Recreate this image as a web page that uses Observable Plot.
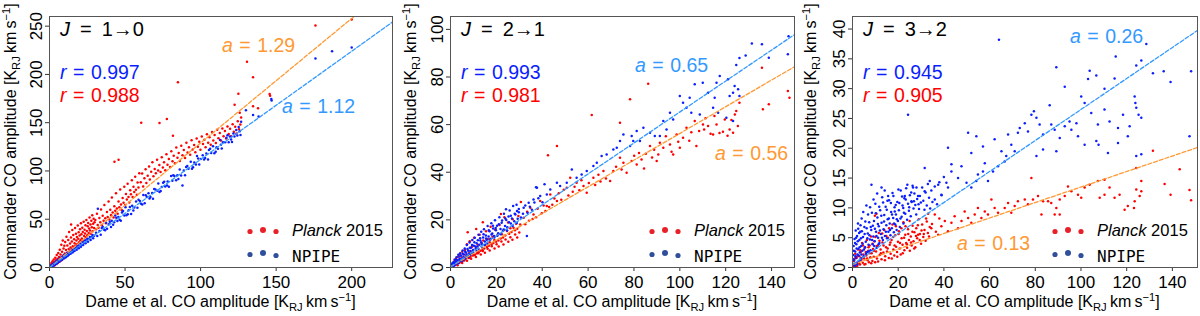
<!DOCTYPE html>
<html><head><meta charset="utf-8">
<script src="https://cdn.jsdelivr.net/npm/d3@7"></script>
<script src="https://cdn.jsdelivr.net/npm/@observablehq/plot@0.6"></script>
<style>
body{margin:0;background:#fff;}
#wrap{position:relative;width:1200px;height:316px;overflow:hidden;background:#fff;}
#wrap svg{position:absolute;top:0;}
</style></head><body><div id="wrap"></div>
<script>
// ---------------- data ----------------
const transitions = ["1\u21920", "2\u21921", "3\u21922"];
const xMax = [227, 150, 151];
const yMax = [260, 105.4, 42.1];
const xTicks = [[0, 50, 100, 150, 200], [0, 20, 40, 60, 80, 100, 120, 140], [0, 20, 40, 60, 80, 100, 120, 140]];
const yTicks = [[0, 50, 100, 150, 200, 250], [0, 20, 40, 60, 80, 100], [0, 5, 10, 15, 20, 25, 30, 35, 40]];
const rNpipe = ["0.997", "0.993", "0.945"];
const rPlanck = ["0.988", "0.981", "0.905"];
const slopeNpipe = [1.12, 0.65, 0.26];
const slopePlanck = [1.29, 0.56, 0.13];
const icptNpipe = [0, 0.3, 0.5];
const icptPlanck = [0, 0.3, 0.5];
const seriesNames = ["Planck", "2015", "NPIPE"];

// J=1-0  Planck 2015  [Dame, Commander]
const planck10 = [[0.3,1.0],[0.5,2.9],[0.8,0.6],[1.0,1.9],[1.3,4.6],[1.5,1.3],[1.8,3.3],[2.0,6.4],[2.3,2.1],[2.5,4.4],[2.8,8.3],[3.0,3.1],[3.3,5.6],[3.5,2.4],[3.8,10.2],[4.0,4.8],[4.3,7.4],[4.5,3.5],[4.8,12.9],[5.0,6.2],[5.3,9.1],[5.5,4.6],[5.8,15.1],[6.0,7.7],[6.3,11.0],[6.5,5.9],[6.8,18.4],[7.0,9.2],[7.3,13.5],[7.5,7.1],[7.8,23.6],[8.0,10.8],[8.3,16.2],[8.5,8.4],[8.8,28.0],[9.0,12.3],[9.3,19.7],[9.5,9.9],[9.8,22.5],[10.1,14.6],[10.4,26.3],[10.6,11.5],[10.9,18.1],[11.2,31.9],[11.5,15.4],[11.8,22.9],[12.1,13.3],[12.4,28.4],[12.7,19.2],[13.0,36.7],[13.3,16.5],[13.6,24.8],[13.9,20.6],[14.3,44.5],[14.2,31.2],[14.5,18.3],[14.8,27.0],[15.1,38.9],[15.4,22.1],[15.7,33.6],[16.0,19.8],[16.3,29.2],[16.6,25.0],[16.9,40.8],[17.2,22.7],[17.5,35.0],[17.8,27.9],[18.1,31.6],[18.4,24.4],[18.7,43.6],[19.0,29.8],[19.3,36.4],[19.6,26.2],[19.9,33.1],[20.2,39.7],[20.5,28.3],[20.8,45.9],[21.1,34.5],[21.4,30.0],[21.7,41.2],[22.0,36.8],[22.3,27.9],[22.6,47.4],[22.9,32.6],[23.2,39.0],[23.5,35.1],[23.8,43.8],[24.1,31.4],[24.4,49.3],[24.7,37.9],[25.0,33.5],[25.3,42.7],[25.6,46.1],[25.9,35.8],[26.2,40.3],[26.5,51.8],[26.8,38.2],[27.1,44.6],[27.4,34.9],[27.7,48.5],[28.0,41.7],[28.3,54.0],[28.6,37.6],[28.9,45.2],[29.2,50.4],[29.5,40.9],[29.8,47.0],
[30.3,49.2],[30.8,39.5],[31.4,55.6],[31.9,44.1],[32.5,41.2],[33.0,51.3],[33.6,46.8],[34.1,60.1],[34.7,43.9],[35.2,53.6],[35.8,48.5],[36.3,64.7],[36.9,51.0],[37.4,45.8],[38.0,57.4],[38.5,52.2],[39.1,68.3],[39.6,49.7],[40.2,59.8],[40.7,54.5],[41.3,72.4],[41.8,57.1],[42.4,51.9],[43.0,109.6],[42.9,63.5],[43.5,58.7],[44.0,76.8],[44.6,61.0],[45.1,55.6],[45.7,111.7],[45.7,68.4],[46.2,62.5],[46.8,80.9],[47.3,65.3],[47.9,59.4],[48.4,72.0],[49.0,67.1],[49.5,83.6],[50.1,64.8],[50.6,76.2],[51.2,70.5],[51.7,86.8],[52.3,73.1],[52.8,67.4],[53.4,80.0],[53.9,75.8],[54.5,90.5],[55.0,72.9],[55.6,83.7],[56.1,78.2],[56.7,94.1],[57.2,80.6],[57.8,75.3],[58.3,88.0],[58.9,82.9],[59.4,97.6],
[60.7,150.0],[60.4,88.2],[61.3,97.5],[62.0,83.9],[62.8,92.4],[63.6,101.8],[64.1,87.5],[65.0,95.0],[65.9,104.6],[66.4,91.2],[67.3,99.3],[68.1,108.9],[68.8,94.6],[69.6,102.1],[70.4,97.7],[71.2,111.5],[71.9,100.4],[72.8,149.6],[72.7,106.2],[73.5,98.9],[74.3,114.1],[75.0,103.6],[75.8,109.0],[76.6,100.8],[77.7,153.8],[77.4,117.3],[78.1,106.5],[79.0,112.4],[79.8,104.2],[80.6,120.5],[81.7,136.5],[81.4,110.1],[82.2,115.7],[83.0,107.9],[83.9,124.3],[84.7,113.8],[85.0,192.0],[85.5,118.6],[86.3,110.2],[87.2,126.0],[88.0,116.4],[88.9,121.7],[89.7,113.5],[90.6,129.1],[91.4,119.0],[92.3,124.6],[93.1,116.8],[94.0,131.9],[94.8,122.3],[95.7,127.0],[96.5,119.4],[97.4,133.6],[98.2,125.1],[99.1,130.2],[99.9,122.0],[100.8,135.8],[101.6,127.9],[102.5,132.4],[103.3,124.6],[104.2,138.1],[105.0,129.3],[105.9,134.9],[106.7,127.2],[107.6,140.3],[108.4,131.6],[109.3,137.2],[110.1,129.0],[111.0,142.6],[111.8,133.8],[112.7,139.4],[113.5,131.5],[114.4,144.1],[115.2,136.0],[116.1,141.3],[116.9,133.7],[117.8,146.0],[118.6,138.2],[119.5,143.7],[120.3,135.9],[121.2,148.4],[122.0,140.5],[122.5,168.6],[122.9,145.9],[123.7,138.7],[124.6,151.6],[125.0,180.0],[125.4,143.2],[125.9,160.4],[126.3,148.0],[126.8,155.5],[130.7,213.0],[134.7,197.0],[134.7,167.0],[138.0,165.0],[145.7,179.6],[146.0,177.8],[176.0,250.7],[200.0,257.0]];

// J=1-0  NPIPE
const npipe10 = [[0.2,0.6],[0.4,1.4],[0.6,0.2],[0.9,1.9],[1.1,0.7],[1.3,2.4],[1.6,1.1],[1.8,3.0],[2.1,2.6],[2.3,1.4],[2.6,3.8],[2.9,2.2],[3.1,4.5],[3.4,3.0],[3.6,5.3],[3.9,3.6],[4.2,4.1],[4.4,6.2],[4.7,3.9],[5.0,6.8],[5.3,5.1],[5.5,7.6],[5.8,5.9],[6.1,6.4],[6.4,8.6],[6.7,6.1],[7.0,9.3],[7.3,7.7],[7.6,8.1],[7.9,10.4],[8.2,7.8],[8.5,11.2],[8.8,9.4],[9.1,10.1],[9.4,12.6],[9.8,9.5],[10.1,11.9],[10.5,13.6],[10.8,10.7],[11.2,12.1],[11.6,14.8],[12.0,11.9],[12.4,15.6],[12.8,13.2],[13.2,14.0],[13.6,17.1],[14.0,14.2],[14.4,16.3],[14.9,18.7],[15.3,15.6],[15.7,17.3],[16.2,20.1],[16.6,17.0],[17.1,19.9],[17.5,21.6],[18.0,18.4],[18.4,20.7],[18.9,23.1],[19.4,20.0],[19.8,22.4],[20.3,24.9],[20.8,21.6],[21.3,23.5],[21.8,26.6],[22.3,23.3],[22.8,25.6],[23.4,28.1],[23.9,25.0],[24.4,27.9],[25.0,29.9],[25.5,26.7],[26.1,29.5],[26.7,31.6],[27.2,28.6],[27.8,31.7],[28.4,33.6],[28.9,30.4],[29.5,33.0],
[30.8,36.0],[31.6,32.6],[32.0,60.8],[33.1,37.7],[33.9,33.9],[35.2,42.3],[36.0,39.3],[37.4,46.3],[38.1,40.2],[39.3,44.8],[40.7,41.9],[41.2,48.5],[42.8,47.0],[43.5,53.9],[44.9,48.1],[45.6,52.3],[47.2,48.3],[48.0,57.1],[49.5,53.9],[50.3,62.3],[51.8,55.1],[52.4,59.2],[54.0,55.4],[54.7,64.0],[56.1,62.2],[57.3,68.3],[58.2,61.9],[59.8,68.9],[60.6,66.1],[62.1,75.1],[63.0,66.6],[64.4,73.0],[65.5,76.9],[66.2,71.5],[67.9,77.3],[68.5,71.3],[70.1,80.7],[71.4,79.6],[72.0,86.9],[73.6,79.3],[74.3,83.4],[75.9,88.8],[76.6,83.8],[78.2,89.2],[79.0,83.7],[80.5,94.8],[81.3,89.9],[82.7,94.7],[83.8,90.3],[84.6,95.5],[86.2,101.6],[87.1,95.3],[88.0,85.0],[88.9,100.6],[89.7,95.5],[91.2,105.1],[92.0,102.2],[93.5,109.6],[94.3,102.4],[95.8,108.7],[96.9,106.6],[97.6,115.4],[99.1,106.7],[100.2,112.5],[101.4,116.2],[102.3,111.9],[103.8,118.1],[104.9,112.0],[105.5,121.6],[107.0,118.7],[108.2,125.5],[109.1,118.4],[110.6,124.5],[111.5,122.9],[112.9,132.0],[114.0,123.3],[114.8,129.8],[116.3,129.8],[117.1,134.3],[118.6,129.8],[119.4,135.6],[120.8,130.1],[121.7,138.8],[122.4,135.6],[123.6,142.4],[124.3,136.8],[125.2,145.5],[125.9,141.1],[126.4,137.3],[126.8,151.0],
[34.6,40.9],[36.8,38.6],[39.9,47.3],[42.1,44.2],[44.2,51.6],[46.4,49.5],[48.7,58.4],[50.9,54.0],[53.2,62.6],[55.5,59.1],[58.9,70.2],[61.4,65.3],[63.7,74.8],[66.8,72.9],[69.3,81.4],[72.8,78.1],[75.2,87.9],[77.8,84.9],[81.9,95.6],[85.3,91.7],[90.4,104.0],[95.0,103.9],[98.4,113.0],[103.0,113.4],[106.3,123.1],[110.0,120.0],[113.4,127.2],[117.8,137.0],[120.2,132.6],
[130.0,163.0],[134.7,158.0],[138.4,156.5],[146.8,174.5],[147.0,173.0],[176.0,216.6],[187.0,224.0],[200.0,228.0]];

// J=2-1  Planck 2015
const planck21 = [[0.3,0.4],[0.6,1.2],[0.9,0.5],[1.2,2.0],[1.5,0.9],[1.8,2.8],[2.1,1.2],[2.4,3.6],[2.7,1.6],[3.0,2.4],[3.3,4.5],[3.6,1.9],[3.9,3.2],[4.2,5.5],[4.5,2.3],[4.8,3.9],[5.1,6.6],[5.4,2.8],[5.7,4.5],[6.0,3.3],[6.3,7.4],[6.6,3.7],[6.9,5.2],[7.2,9.8],[7.5,14.8],[7.8,4.1],[8.1,6.0],[8.4,11.0],[8.7,4.5],[9.0,6.7],[9.3,8.6],[9.6,5.0],[9.9,7.3],[10.3,12.5],[10.7,5.4],[11.1,8.2],[11.2,16.2],[11.5,6.0],[11.9,9.6],[12.3,6.4],[12.7,13.8],[13.1,7.0],[13.5,10.4],[13.9,7.4],[14.1,19.0],[14.3,11.3],[14.7,8.0],[15.1,9.5],[15.5,15.2],[15.9,8.6],[16.3,12.0],[16.7,9.1],[17.1,10.6],[17.5,17.1],[17.9,9.7],[18.3,12.9],[18.7,10.3],[19.1,11.5],[19.5,15.9],[19.9,10.8],[20.4,13.5],[20.9,11.3],[21.4,17.8],[21.9,12.2],[22.0,22.5],[22.4,14.0],[22.9,12.6],[23.4,15.7],[23.5,21.1],[23.9,13.4],[24.6,15.3],[25.1,18.9],[25.6,14.2],[26.1,16.5],[26.6,14.9],[27.1,20.3],[27.5,16.7],[28.1,15.6],[28.6,18.4],[29.1,16.3],[29.6,21.6],[30.4,18.1],[30.7,27.5],
[1.0,0.3],[2.0,1.1],[3.1,0.9],[4.0,2.1],[5.1,1.9],[6.0,2.9],[7.2,2.8],[8.1,4.0],[9.0,3.7],[10.2,5.1],[11.1,4.4],[12.0,6.0],[13.2,5.5],[14.1,6.9],[15.0,6.2],[16.2,7.9],[17.1,7.1],[18.0,8.9],[19.2,8.0],[20.1,9.8],[21.0,8.8],[22.2,10.9],[23.1,9.7],[24.0,11.8],[25.2,10.8],[26.1,12.7],[27.0,11.7],[28.2,13.9],[29.1,12.6],[30.0,14.7],
[31.9,20.9],[32.6,18.2],[33.4,23.4],[34.2,19.6],[34.8,25.1],[35.8,20.4],[36.2,22.3],[37.3,21.1],[38.0,24.7],[39.1,27.9],[39.8,22.8],[40.6,26.0],[41.4,23.7],[42.0,25.8],[42.5,47.1],[43.0,25.4],[43.5,30.7],[44.4,26.3],[45.3,29.0],[46.4,27.9],[46.4,51.0],[47.2,31.2],[48.3,28.5],[49.4,32.6],[50.7,33.5],[51.4,30.2],[52.2,37.7],[53.3,31.8],[54.1,33.9],[55.0,35.6],[56.2,32.4],[57.1,36.6],[58.0,34.2],[59.4,31.4],[60.3,35.5],[61.6,64.0],[62.3,37.7],[63.1,34.6],[64.5,38.9],[65.4,36.1],[66.7,40.5],[67.8,37.4],[69.6,36.3],[71.0,40.5],[72.2,42.3],[73.9,46.1],[73.9,60.8],[74.6,41.2],[75.4,44.0],[76.8,39.8],[78.3,70.6],[79.0,44.7],[80.1,46.9],[81.2,43.3],[82.2,48.1],[83.3,45.4],[84.4,41.6],[85.2,47.8],[86.2,77.2],[87.0,51.0],[87.9,46.2],[88.8,49.4],[89.9,44.7],[90.6,47.5],
[91.3,52.4],[92.8,50.3],[93.9,55.1],[95.7,51.7],[96.4,48.6],[97.1,47.5],[98.6,55.9],[99.3,52.8],[100.0,50.3],[101.4,54.5],[102.9,58.7],[104.1,53.2],[105.0,56.8],[106.5,61.5],[107.2,51.0],[108.4,57.3],[110.1,60.1],[110.6,58.0],[111.2,62.7],[112.3,59.4],[113.4,56.2],[114.5,55.9],[115.1,63.6],[116.0,60.1],[117.3,56.5],[118.8,57.0],[119.6,62.1],[120.8,55.3],[121.7,58.0],[122.5,61.9],[123.2,56.6],[124.0,64.3],[124.6,65.7],[125.3,59.4],[126.0,69.2],[135.8,83.9],[136.2,66.4],[138.8,68.5],[147.1,74.1],[147.8,71.3]];

// J=2-1  NPIPE
const npipe21 = [[0.3,1.0],[0.5,0.2],[0.8,1.8],[1.0,0.6],[1.3,2.2],[1.5,1.4],[1.8,3.4],[2.0,1.1],[2.3,2.7],[2.6,4.3],[2.8,1.7],[3.1,2.9],[3.4,5.4],[3.6,2.3],[3.9,3.6],[4.2,6.0],[4.4,2.8],[4.7,4.9],[5.0,3.6],[5.3,7.1],[5.6,4.2],[5.9,5.5],[6.2,8.0],[6.5,3.9],[6.8,6.2],[7.1,9.4],[7.4,5.1],[7.7,7.0],[8.0,5.8],[8.3,10.5],[8.6,6.9],[8.9,8.3],[9.2,5.9],[9.5,11.6],[9.8,7.4],[10.2,9.1],[10.6,12.5],[11.0,7.9],[11.4,10.2],[11.8,8.8],[12.2,13.7],[12.6,9.6],[13.0,11.3],[13.4,15.0],[13.8,9.8],[14.2,12.6],[14.6,16.1],[15.0,10.9],[15.4,13.4],[15.8,11.7],[16.2,17.4],[16.6,13.0],[17.0,15.2],[17.4,12.1],[17.8,18.6],[18.2,14.3],[18.6,16.4],[19.0,13.2],[19.4,19.8],[19.8,15.6],[20.3,17.5],[20.8,14.4],[21.3,21.1],[21.8,16.2],[22.3,18.8],[22.8,15.3],[23.3,22.6],[23.8,17.4],[24.2,24.5],[24.3,19.9],[24.8,16.9],[25.3,21.4],[25.8,23.9],[26.3,18.5],[26.8,20.6],[27.3,25.8],[27.8,19.4],[28.3,22.3],[28.8,26.4],[29.3,20.5],[29.8,23.2],
[0.4,0.5],[0.9,1.2],[1.4,0.6],[1.9,2.0],[2.4,1.9],[2.9,3.1],[3.4,1.8],[3.9,4.6],[4.4,3.6],[4.9,2.6],[5.4,5.8],[5.9,3.4],[6.4,6.6],[6.9,4.8],[7.4,7.8],[7.9,4.5],[8.4,8.3],[8.9,5.4],[9.4,9.5],[9.9,6.3],[10.4,10.6],[10.9,8.8],[11.4,6.9],[11.9,11.4],[12.4,7.6],[12.9,12.3],[13.4,10.5],[13.9,8.3],[14.4,14.0],[14.9,9.4],[15.5,12.2],[16.1,10.0],[16.7,15.6],[17.3,11.7],[17.9,13.9],[18.5,17.5],[19.1,12.6],[19.7,16.6],[20.4,13.3],[21.1,18.2],[21.8,14.0],[22.5,19.7],[23.2,16.0],[23.9,20.6],[24.7,15.5],[25.5,19.0],[26.3,21.7],[27.1,17.4],[28.0,22.6],[28.9,18.7],[29.8,24.6],[30.7,21.0],[31.6,22.6],[32.6,26.0],[33.6,23.0],[34.6,25.5],[35.5,24.3],[36.6,27.3],[38.3,29.1],[40.1,27.4],
[29.0,23.7],[31.9,25.1],[33.3,13.2],[34.1,27.2],[36.2,28.6],[37.3,33.7],[37.7,33.5],[39.1,30.0],[41.0,35.0],[42.0,30.7],[43.5,32.8],[46.4,35.6],[47.8,34.2],[50.7,35.6],[52.9,41.2],[55.0,37.7],[57.2,39.1],[59.4,40.5],[62.3,42.6],[63.8,44.0],[65.9,46.8],[68.1,47.5],[71.0,49.6],[72.5,50.3],[73.9,53.1],[75.4,55.9],[78.3,51.0],[79.0,55.2],[79.7,53.1],[81.2,57.3],[82.6,53.1],[84.1,58.7],[87.0,56.6],[89.1,55.2],[91.3,55.2],[92.8,61.5],[94.2,58.0],[95.7,65.0],[97.1,62.2],[100.0,72.0],[101.4,69.2],[102.9,67.1],[104.3,71.3],[105.0,65.0],[106.5,76.9],[108.7,64.3],[110.0,77.6],[112.3,73.4],[114.5,67.1],[115.2,71.3],[116.0,77.6],[116.7,65.0],[117.4,80.4],[120.3,62.9],[121.0,79.0],[121.7,72.0],[123.2,61.5],[123.2,73.4],[123.9,76.2],[124.6,85.0],[125.4,74.8],[126.0,72.0],[126.0,88.0],[128.7,89.0],[131.4,94.1],[135.8,93.7],[138.8,88.1],[147.1,89.5],[147.4,97.1]];

// J=3-2  Planck 2015
const planck32 = [[0.3,0.2],[0.6,1.1],[0.9,0.4],[1.2,2.3],[1.5,0.7],[1.8,1.6],[2.1,0.3],[2.4,3.0],[2.7,1.0],[3.0,1.9],[3.3,0.5],[3.6,2.6],[3.9,1.3],[4.2,4.1],[4.5,0.8],[4.8,2.2],[5.1,1.5],[5.4,3.3],[5.7,0.6],[6.0,2.0],[6.3,4.6],[6.6,1.2],[6.9,2.8],[7.2,0.9],[7.5,3.7],[7.8,1.7],[8.1,5.2],[8.4,2.4],[8.7,1.1],[9.0,3.1],[9.3,1.8],[9.6,4.4],[9.8,8.7],[9.9,0.9],[10.3,2.7],[10.5,9.0],[10.7,1.5],[11.1,3.6],[11.5,5.8],[11.9,2.1],[12.3,3.0],[12.7,1.4],[13.1,4.2],[13.5,2.5],[13.9,6.3],[14.3,1.9],[14.7,3.4],[15.1,2.7],[15.5,5.0],[15.9,1.6],[16.3,3.8],[16.7,2.3],[17.1,4.6],[17.5,7.2],[17.9,3.0],[18.3,2.0],[18.7,5.4],[19.1,3.5],[19.5,2.6],[19.9,4.3],[20.3,6.1],[20.7,3.2],[21.1,2.2],[21.5,4.9],[21.9,3.8],[22.3,7.6],[22.7,2.9],[23.1,5.5],[23.5,4.1],[23.9,3.3],[24.3,6.4],[24.7,4.6],[25.1,2.8],[25.5,5.2],[25.9,3.7],[26.3,7.0],[26.7,4.4],[27.1,5.9],[27.5,3.4],[27.9,6.6],[28.3,4.9],[28.7,5.5],[29.0,8.1],[29.5,5.6],[30.0,4.0],[30.5,7.2],[31.0,5.1],[31.5,6.3],[32.0,4.5],[32.5,7.7],[33.0,5.8],
[0.5,0.6],[1.0,1.5],[1.6,0.2],[2.2,1.9],[2.8,0.7],[3.4,2.9],[4.0,1.6],[4.6,3.7],[5.2,0.5],[5.8,2.6],[6.4,1.5],[7.0,3.4],[7.6,2.4],[8.2,0.7],[8.8,4.0],[9.4,2.8],[10.0,5.1],[10.6,3.6],[11.2,1.0],[11.8,4.5],[12.4,2.4],[13.0,5.7],[13.6,3.7],[14.2,1.2],[14.8,5.3],[15.4,3.2],[16.0,6.6],[16.6,4.2],[17.2,1.5],[17.8,5.1],[18.4,3.7],[19.0,6.9],[19.6,1.8],[20.2,5.6],[20.8,4.1],[21.4,6.6],[22.0,2.4],[22.6,5.0],[23.2,6.9],[23.8,3.9],[24.4,5.6],[25.0,7.8],[25.6,4.2],[26.2,6.0],[27.0,3.2],[27.8,5.3],[28.6,7.1],[29.4,4.6],[30.2,6.2],[31.2,5.6],[32.2,8.2],[33.5,5.2],[34.8,7.3],[36.5,6.0],[38.0,8.2],
[33.1,9.0],[33.8,6.8],[34.5,6.6],[36.0,8.9],[37.5,5.5],[38.9,6.9],[40.4,7.8],[41.8,6.1],[43.3,7.5],[44.7,8.6],[46.2,6.6],[47.7,7.8],[49.1,9.4],[50.6,8.3],[52.0,7.5],[53.5,8.9],[54.9,10.0],[56.4,8.3],[57.9,9.4],[59.3,8.9],[60.8,11.4],[62.2,10.0],[63.7,9.2],[66.6,10.0],[68.1,10.8],[69.5,9.2],[71.0,10.3],[72.4,11.1],[75.4,11.4],[76.8,10.6],[78.3,15.0],[79.0,11.4],[81.2,12.0],[82.7,8.9],[83.4,11.1],[85.6,11.1],[87.0,10.8],[88.5,8.9],[89.2,10.0],[90.7,8.9],[90.7,11.4],[92.9,12.0],[94.3,13.6],[95.8,12.8],[98.7,12.2],[100.1,11.7],[101.6,13.4],[103.8,13.9],[107.4,14.5],[108.2,11.7],[110.3,14.7],[110.3,12.2],[112.5,13.4],[114.7,11.7],[116.9,12.2],[119.1,9.7],[120.5,10.3],[123.2,10.0],[123.5,11.1],[124.2,13.1],[124.2,16.7],[125.7,12.0],[126.4,12.8],[126.4,14.5],[131.5,19.6],[136.6,14.0],[139.2,12.2],[143.2,16.5],[147.5,13.0],[148.2,11.3]];

// J=3-2  NPIPE
const npipe32 = [[0.2,0.5],[0.4,2.1],[0.5,3.6],[0.7,1.2],[0.9,4.8],[1.0,0.3],[1.2,2.7],[1.4,6.2],[1.5,1.6],[1.7,3.9],[1.9,0.8],[2.0,5.3],[2.2,2.2],[2.4,7.4],[2.6,3.1],[2.8,1.0],[3.0,4.6],[3.2,2.5],[3.4,6.0],[3.6,1.5],[3.8,3.6],[4.0,8.2],[4.3,2.8],[4.6,5.1],[4.9,1.9],[5.2,6.8],[5.5,3.4],[5.8,4.3],[6.1,10.4],[6.4,2.6],[6.7,5.7],[7.0,3.8],[7.3,7.6],[7.6,4.7],[7.9,2.9],[8.2,6.3],[8.3,13.9],[8.5,9.2],[8.8,3.9],[9.1,5.2],[9.4,7.8],[9.7,4.4],[10.0,10.7],[10.3,6.0],[10.6,3.3],[10.9,8.4],[11.2,5.0],[11.5,6.9],[11.8,4.1],[12.1,9.6],[12.4,5.6],[12.7,7.5],[12.7,13.4],[13.0,11.8],[13.3,4.6],[13.6,6.4],[13.9,8.8],[14.2,5.3],[14.5,10.2],[14.8,7.1],[15.1,4.9],[15.4,8.1],[15.6,12.0],[15.7,6.0],[16.0,11.3],[16.3,7.4],[16.6,5.4],[16.9,9.3],[17.2,6.6],[17.5,12.5],[17.8,8.3],[18.1,5.9],[18.4,10.1],[18.5,9.4],[18.7,7.2],[19.0,8.9],[19.3,6.3],[19.6,11.0],[19.9,7.8],[20.3,9.6],[20.7,6.8],[21.1,12.9],[21.5,8.5],[21.9,10.4],[22.2,10.0],[22.3,7.4],[22.7,11.6],[22.9,12.0],[23.1,9.0],[23.5,13.3],[23.9,8.0],[24.3,25.6],[24.3,10.7],[24.7,9.5],[25.1,12.1],[25.5,8.6],[25.8,11.1],[25.9,11.0],[26.3,13.7],[26.5,13.4],[26.7,9.9],[27.1,12.4],[27.5,10.5],[27.9,8.9],[28.3,11.5],[28.7,12.0],[29.1,9.8],[29.5,12.0],[29.9,10.9],
[0.3,1.4],[0.6,2.8],[0.8,0.6],[1.1,4.1],[1.3,1.9],[1.6,5.0],[1.8,3.2],[2.1,0.5],[2.3,4.4],[2.5,6.5],[2.7,2.0],[2.9,5.8],[3.1,3.4],[3.3,1.2],[3.5,7.1],[3.7,4.9],[3.9,2.2],[4.1,6.1],[4.4,4.0],[4.7,9.3],[5.0,3.0],[5.3,5.6],[5.6,7.7],[5.9,2.3],[6.2,6.6],[6.5,4.9],[6.8,8.9],[7.1,2.7],[7.4,5.4],[7.7,10.1],[8.0,6.8],[8.6,4.6],[8.9,7.0],[9.2,11.4],[9.5,3.6],[9.8,6.5],[10.2,9.1],[10.5,5.3],[10.8,12.4],[11.1,7.3],[11.4,3.9],[11.7,10.2],[12.0,6.2],[12.6,8.7],[12.9,5.0],[13.4,10.9],[13.8,7.7],[14.1,12.9],[14.6,6.0],[15.0,9.7],[15.3,11.2],[15.9,8.2],[16.4,6.3],[16.8,10.8],[17.3,8.9],[17.9,12.0],[18.2,7.4],[18.9,10.5],[19.4,8.1],[20.1,13.1],[20.5,10.8],[21.0,8.2],[21.7,11.9],[22.5,9.2],[23.3,11.4],[24.0,13.9],[24.8,10.1],[25.7,12.6],[26.9,11.1],[28.0,13.4],[28.9,10.6],
[30.5,13.4],[31.0,11.2],[31.5,9.7],[31.6,16.7],[31.6,12.8],[32.0,12.6],[32.5,10.4],[33.0,14.0],[33.5,11.7],[33.8,14.5],[34.0,9.9],[34.5,12.9],[35.0,11.0],[36.0,11.4],[36.0,13.6],[37.0,10.6],[37.5,13.9],[38.0,14.3],[38.9,12.2],[39.0,12.1],[40.0,15.2],[41.1,14.2],[41.8,13.4],[41.8,20.1],[43.3,16.1],[43.3,17.3],[46.2,15.0],[47.7,17.0],[49.9,14.2],[50.6,22.6],[52.0,13.4],[52.0,19.2],[54.2,14.5],[54.2,22.0],[54.9,15.6],[57.1,16.1],[57.1,20.3],[57.9,17.5],[59.3,14.5],[61.5,16.1],[62.2,21.5],[63.7,17.0],[64.1,38.2],[65.2,19.5],[66.6,17.8],[67.3,18.7],[68.1,22.3],[69.5,20.6],[71.0,19.5],[72.4,22.6],[73.2,23.4],[75.4,24.2],[76.8,22.8],[78.3,25.6],[79.4,26.2],[80.5,25.1],[80.5,18.7],[81.9,24.0],[83.4,22.3],[83.4,19.8],[86.3,27.2],[87.0,24.0],[88.5,23.1],[89.2,33.6],[89.2,19.5],[90.7,21.7],[92.9,30.3],[92.9,23.7],[95.0,24.5],[95.8,23.1],[98.0,24.2],[98.7,22.0],[100.1,28.7],[101.6,27.6],[101.6,20.6],[103.1,31.6],[103.8,33.0],[104.5,25.9],[106.7,32.2],[106.7,21.2],[107.4,24.0],[107.7,20.6],[110.3,30.0],[110.3,26.5],[111.8,19.2],[112.5,24.5],[114.7,31.7],[115.2,35.4],[116.2,23.4],[116.2,20.9],[118.4,25.6],[120.5,22.0],[121.3,23.7],[123.5,28.7],[123.8,27.6],[124.2,26.8],[124.2,33.9],[124.2,18.7],[125.2,25.6],[126.4,25.1],[126.4,34.7],[126.4,19.0],[128.6,37.5],[131.5,32.6],[136.2,32.9],[139.2,31.1],[147.5,22.0],[148.2,32.9]];

const planckData = [planck10, planck21, planck32];
const npipeData = [npipe10, npipe21, npipe32];

// ---------------- layout / style ----------------
const FONT = "'Liberation Sans', Arial, sans-serif";
const MONO = "'DejaVu Sans Mono', 'Liberation Mono', monospace";
const C = {red: "#ff0000", blue: "#0a1eff", orange: "#ff9933", lblue: "#3399ff",
           legRed: "#e8202a", legBlue: "#2f4f9c", frame: "#555"};
const panelLayout = [
  {left: 0,   ml: 49, mr: 8},
  {left: 400, ml: 50, mr: 6},
  {left: 800, ml: 52, mr: 3}
];
// annotation offsets relative to frame left/top (px): [x, baseline]
const aPos = [
  {planck: [173, 36], npipe: [233, 97]},
  {planck: [265, 144], npipe: [185, 56]},
  {planck: [105, 234], npipe: [218, 27]}
];
const MT = 16, MB = 49, W = 400, H = 316;
const EQ = "\u2004=\u2004";   // math-style spacing round "="
const EQT = "\u2002=\u2002";

const wrap = document.getElementById("wrap");

function rich(g, x, y, parts, attrs = {}) {
  const t = g.append("text").attr("x", x).attr("y", y).attr("text-anchor", "start");
  for (const k in attrs) t.attr(k, attrs[k]);
  for (const [str, st] of parts) {
    const sp = t.append("tspan").text(str);
    for (const k in (st || {})) sp.attr(k, st[k]);
  }
  return t;
}
const unitParts = (size) => [
  ["[K", {"font-size": size}],
  ["RJ", {"font-size": size * 0.7, dy: size * 0.22}],
  ["\u2009km\u2009s", {"font-size": size, dy: -size * 0.22}],
  ["\u22121", {"font-size": size * 0.7, dy: -size * 0.38}],
  ["]", {"font-size": size, dy: size * 0.38}]
];

for (let i = 0; i < 3; i++) {
  const L = panelLayout[i];
  const fit = (a, b) => [{x: 0, y: b}, {x: xMax[i], y: b + a * xMax[i]}];
  const svg = Plot.plot({
    width: W, height: H,
    marginLeft: L.ml, marginRight: L.mr, marginTop: MT, marginBottom: MB,
    style: {fontFamily: FONT, fontSize: "17px", background: "white", color: "#000", overflow: "visible"},
    x: {domain: [0, xMax[i]], label: null},
    y: {domain: [0, yMax[i]], label: null},
    marks: [
      Plot.dot(planckData[i], {x: d => d[0], y: d => d[1], r: 1.25, fill: C.red, clip: true}),
      Plot.dot(npipeData[i], {x: d => d[0], y: d => d[1], r: 1.25, fill: C.blue, clip: true}),
      Plot.line(fit(slopePlanck[i], icptPlanck[i]), {x: "x", y: "y", stroke: C.orange, strokeWidth: 1.3, strokeDasharray: "4,2", clip: true}),
      Plot.line(fit(slopeNpipe[i], icptNpipe[i]), {x: "x", y: "y", stroke: C.lblue, strokeWidth: 1.3, strokeDasharray: "4,2", clip: true}),
      Plot.axisX({ticks: xTicks[i], tickSize: 4, tickPadding: 4, label: null, stroke: "#333"}),
      Plot.axisY({ticks: yTicks[i], tickSize: 4, tickPadding: 4, tickRotate: -90, label: null, stroke: "#333"}),
      Plot.frame({stroke: C.frame, strokeWidth: 1})
    ]
  });
  svg.style.left = L.left + "px";
  wrap.appendChild(svg);

  const g = d3.select(svg).append("g").attr("font-family", FONT).attr("text-anchor", "start");
  const fx = L.ml, fy = MT, fr = W - L.mr, fb = H - MB;

  // title
  rich(g, fx + 11, fy + 20, [["J", {"font-style": "italic"}], [EQT + transitions[i], {}]], {"font-size": 20, fill: "#000"});
  // correlation coefficients
  rich(g, fx + 11, fy + 63, [["r", {"font-style": "italic"}], [EQ + rNpipe[i], {}]], {"font-size": 19.5, fill: C.blue});
  rich(g, fx + 11, fy + 86, [["r", {"font-style": "italic"}], [EQ + rPlanck[i], {}]], {"font-size": 19.5, fill: C.red});
  // slopes
  rich(g, fx + aPos[i].planck[0], fy + aPos[i].planck[1], [["a", {"font-style": "italic"}], [EQ + slopePlanck[i].toFixed(2), {}]], {"font-size": 19.5, fill: C.orange});
  rich(g, fx + aPos[i].npipe[0], fy + aPos[i].npipe[1], [["a", {"font-style": "italic"}], [EQ + slopeNpipe[i].toFixed(2), {}]], {"font-size": 19.5, fill: C.lblue});

  // legend
  const lr = [[-142, -35.5, 2.6], [-129, -37, 3.0], [-116, -35.5, 2.6]];
  const lb = [[-142, -12.5, 2.6], [-129, -14, 3.0], [-116, -11.5, 2.6]];
  for (const [dx, dy, r] of lr) g.append("circle").attr("cx", fr + dx).attr("cy", fb + dy).attr("r", r).attr("fill", C.legRed);
  for (const [dx, dy, r] of lb) g.append("circle").attr("cx", fr + dx).attr("cy", fb + dy).attr("r", r).attr("fill", C.legBlue);
  rich(g, fr - 100, fb - 31, [[seriesNames[0], {"font-style": "italic"}], [" " + seriesNames[1], {}]], {"font-size": 16.5, fill: "#000"});
  rich(g, fr - 100, fb - 5, [[seriesNames[2], {}]], {"font-size": 16, fill: "#000", "font-family": MONO});

  // axis labels
  rich(g, (fx + fr) / 2, 307, [["Dame et al. CO amplitude ", {"font-size": 16}], ...unitParts(16)], {"text-anchor": "middle", fill: "#000"});
  rich(g, 0, 0, [["Commander CO amplitude ", {"font-size": 16}], ...unitParts(16)], {"text-anchor": "middle", fill: "#000", transform: `translate(16,${(fy + fb) / 2}) rotate(-90)`});
}
</script></body></html>
